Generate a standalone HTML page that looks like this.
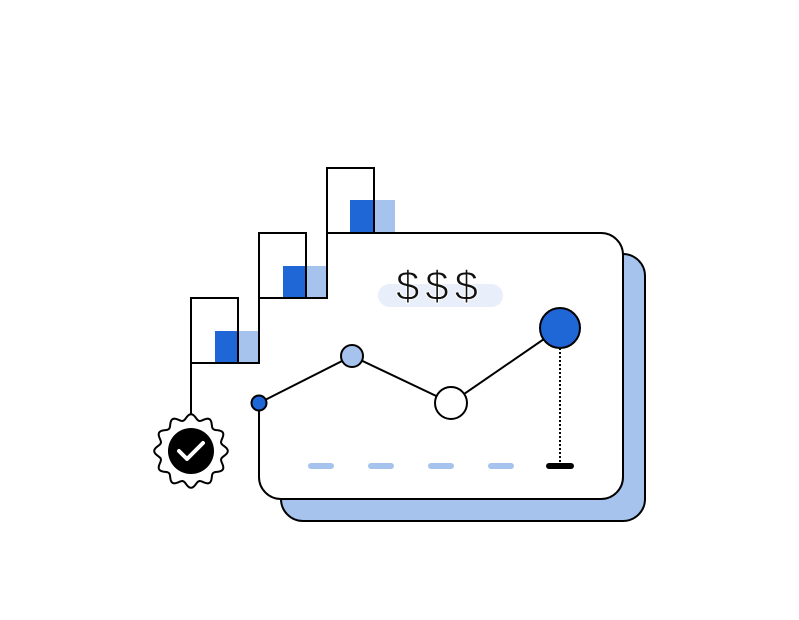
<!DOCTYPE html>
<html><head><style>body{margin:0;background:#fff}svg{display:block}</style></head><body>
<svg width="799" height="620" viewBox="0 0 799 620" xmlns="http://www.w3.org/2000/svg">
<rect x="281" y="254" width="364" height="267" rx="22" fill="#a6c3ee" stroke="#000" stroke-width="2"/>
<rect x="259" y="233" width="364" height="266" rx="22" fill="#fff"/>
<path d="M327 233 H601 A22 22 0 0 1 623 255 V477 A22 22 0 0 1 601 499 H281 A22 22 0 0 1 259 477 V403" fill="none" stroke="#000" stroke-width="2"/>
<rect x="215" y="331" width="23" height="32" fill="#1f66d6"/><rect x="238" y="331" width="21" height="32" fill="#a6c3ee"/>
<rect x="283" y="266" width="23" height="32" fill="#1f66d6"/><rect x="306" y="266" width="21" height="32" fill="#a6c3ee"/>
<rect x="350" y="200" width="24" height="33" fill="#1f66d6"/><rect x="374" y="200" width="21" height="33" fill="#a6c3ee"/>
<g fill="none" stroke="#000" stroke-width="2">
<path d="M191 415 V298 H238 V363 M191 363 H259 V233 H306 V298 M259 298 H327 V168 H374 V233 M327 233 H400"/>
</g>
<rect x="378" y="284" width="125" height="23" rx="11.5" fill="#e8eefa"/>
<text x="440" y="300" text-anchor="middle" font-family="Liberation Sans, sans-serif" font-size="42" fill="#111" stroke="#fff" stroke-width="0.9" letter-spacing="6">$$$</text>
<polyline points="259,403 352,356 451,403 560,328" fill="none" stroke="#000" stroke-width="2"/>
<line x1="560" y1="348" x2="560" y2="466" stroke="#000" stroke-width="2" stroke-dasharray="2,2"/>
<g stroke="#a6c3ee" stroke-width="6" stroke-linecap="round">
<line x1="311" y1="466" x2="331" y2="466"/><line x1="371" y1="466" x2="391" y2="466"/><line x1="431" y1="466" x2="451" y2="466"/><line x1="491" y1="466" x2="511" y2="466"/></g>
<line x1="549" y1="466" x2="571" y2="466" stroke="#000" stroke-width="6" stroke-linecap="round"/>
<circle cx="259" cy="403" r="7.5" fill="#1f66d6" stroke="#000" stroke-width="2"/>
<circle cx="352" cy="356" r="11" fill="#a6c3ee" stroke="#000" stroke-width="2"/>
<circle cx="451" cy="403" r="16" fill="#fff" stroke="#000" stroke-width="2"/>
<circle cx="560" cy="328" r="20" fill="#1f66d6" stroke="#000" stroke-width="2"/>
<path id="badge" fill="#fff" stroke="#000" stroke-width="2" d=""/>
<circle cx="191" cy="451" r="23" fill="#000"/>
<path d="M179 451 L187 459 L203 443" fill="none" stroke="#fff" stroke-width="4" stroke-linecap="round" stroke-linejoin="round"/>
</svg>
<script>
(function(){var cx=191,cy=451,n=12,pts=[];for(var i=0;i<=240;i++){var a=i/240*2*Math.PI;var r=34+2.8*Math.cos(n*a);pts.push((cx+r*Math.cos(a)).toFixed(2)+' '+(cy+r*Math.sin(a)).toFixed(2));}
document.getElementById('badge').setAttribute('d','M'+pts.join(' L')+'Z');})();
</script>
</body></html>
